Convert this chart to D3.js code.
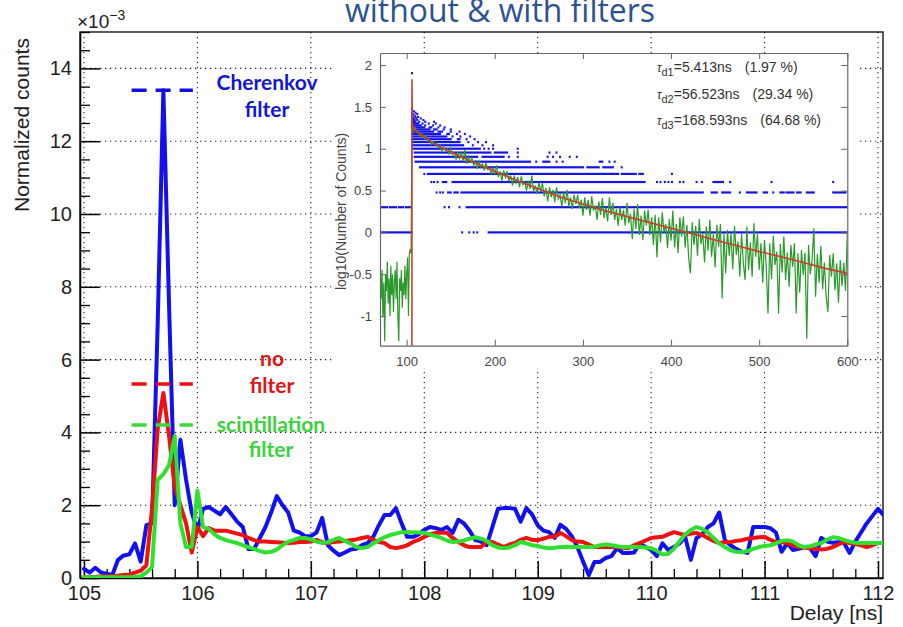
<!DOCTYPE html>
<html><head><meta charset="utf-8">
<script src="https://cdn.jsdelivr.net/npm/d3@7"></script>
<style>body{margin:0;background:#fff} svg{display:block}</style>
</head><body>
<svg id="c" width="903" height="627"></svg>
<script>
// ---------- main chart data (bins of 0.05 ns starting at 105.00 ns) ----------
const binStart = 105.0, binWidth = 0.05;
const cherenkovFilter = [
0.25,0.15,0.28,0.15,0.12,0.08,0.5,0.62,0.65,0.95,
0.45,1.45,1.5,7.0,13.4,7.5,2.0,3.8,2.7,1.8,
1.3,1.9,1.95,1.85,1.75,1.95,1.75,1.55,1.4,0.8,
0.8,1.1,1.4,1.8,2.25,2.0,1.8,1.3,1.25,1.15,
1.15,1.25,1.65,0.9,0.75,0.63,0.7,0.78,0.8,0.9,
0.96,1.13,1.45,1.73,1.73,1.92,1.5,1.13,1.13,1.2,
1.32,1.4,1.37,1.32,1.4,1.24,1.6,1.5,1.3,1.04,
1.0,0.9,1.4,1.9,1.92,1.92,1.9,1.55,1.92,1.75,
1.45,1.3,1.26,1.1,1.46,1.35,1.15,0.85,0.45,0.08,
0.44,0.44,0.55,0.6,0.82,0.69,0.69,0.7,0.96,0.85,
0.77,0.6,0.95,0.77,0.85,0.95,1.13,0.5,1.1,1.2,
1.4,1.5,1.8,1.04,0.9,0.8,0.72,0.69,1.4,1.4,
1.4,1.37,1.25,0.72,0.96,0.77,0.8,0.85,0.82,0.6,
1.1,1.0,0.97,0.98,0.96,0.69,1.0,1.25,1.5,1.7,
1.9,1.73];
const noFilter = [
0.03,0.03,0.03,0.04,0.05,0.05,0.06,0.08,0.1,0.15,
0.2,0.35,1.9,4.1,5.08,3.9,2.5,2.0,1.5,0.7,
1.4,1.15,1.37,1.3,1.3,1.3,1.26,1.22,1.18,1.1,
1.04,1.0,1.0,0.99,0.98,0.97,0.96,0.97,0.99,0.99,
1.0,1.05,0.98,0.96,0.99,1.0,1.02,1.04,1.06,1.1,
1.13,1.05,0.99,0.96,0.85,0.82,0.85,0.9,0.99,1.05,
1.13,1.2,1.24,1.24,1.24,1.1,0.99,0.9,0.85,0.85,
0.85,0.99,0.99,0.92,0.85,0.92,0.96,1.05,1.1,1.05,
1.04,1.08,1.13,1.13,1.24,1.15,1.04,1.0,0.99,0.92,
0.85,0.85,0.85,0.85,0.85,0.83,0.82,0.9,0.96,1.03,
1.1,1.12,1.13,1.2,1.26,1.22,1.18,1.22,1.24,1.18,
1.1,1.02,0.96,0.98,0.99,1.02,1.04,1.08,1.1,1.12,
1.13,1.05,0.99,0.98,0.96,0.9,0.85,0.84,0.82,0.8,
0.78,0.8,0.85,0.92,0.99,0.96,0.93,0.9,0.85,0.9,
0.96,0.96];
const scintillationFilter = [
0.02,0.02,0.02,0.02,0.02,0.02,0.02,0.02,0.02,0.03,
0.05,0.15,0.3,2.7,2.85,3.1,3.9,1.5,0.85,0.85,
2.4,1.4,1.35,1.2,1.1,1.04,1.0,0.96,0.9,0.85,
0.8,0.74,0.7,0.72,0.78,0.9,1.0,1.05,1.1,1.1,
1.06,1.0,0.96,0.98,1.05,1.1,1.02,0.95,0.85,0.82,
0.85,0.95,1.04,1.12,1.18,1.22,1.26,1.26,1.26,1.25,
1.24,1.2,1.15,1.1,1.03,0.99,1.0,1.03,1.08,1.12,
1.08,1.02,0.9,0.84,0.82,0.84,0.9,0.99,0.95,0.9,
0.88,0.84,0.82,0.83,0.85,0.86,0.85,0.85,0.85,0.85,
0.86,0.9,0.92,0.9,0.87,0.85,0.85,0.85,0.85,0.84,
0.82,0.75,0.65,0.66,0.8,1.0,1.2,1.32,1.4,1.35,
1.25,1.1,0.95,0.85,0.76,0.72,0.71,0.74,0.8,0.85,
0.88,0.9,0.95,1.02,1.04,1.0,0.9,0.85,0.87,0.92,
0.96,1.05,1.12,1.1,1.05,1.0,0.97,0.96,0.96,0.96,
0.96,0.96];
const xTickLabels = [105,106,107,108,109,110,111,112];
const yTickLabels = [0,2,4,6,8,10,12,14];
const markerLevels = [13.4, 5.33, 4.2];   // dashed markers: Cherenkov, no filter, scintillation

// ---------- inset data ----------
const insetXTicks = [100,200,300,400,500,600];
const insetYTicks = [-1,-0.5,0,0.5,1,1.5,2];
// blue points: runs of 1-ns bins sharing the same integer count
const dotCounts = [1,2,3,4,5,6,7,8,9,10,11,12,13,14,15,16,17,18,19,20,21,22,23,24,25,26,27,28,30,80];
const dotRuns = [
 [[70,106],[163,163],[171,171],[176,176],[180,180],[193,600]],
 [[71,78],[81,88],[91,96],[99,104],[143,143],[148,148],[160,160],[168,600]],
 [[134,134],[138,138],[141,141],[147,150],[154,158],[162,436],[446,452],[458,467],[478,478],[486,497],[505,509],[516,516],[524,528],[531,539],[543,547],[554,562],[584,598]],
 [[128,128],[131,131],[135,135],[141,145],[152,370],[384,384],[388,388],[393,393],[397,397],[401,401],[410,410],[414,414],[429,429],[435,435],[448,459],[467,467],[514,514],[584,584]],
 [[120,120],[124,340],[344,360],[364,368],[401,401]],
 [[115,300],[305,318],[323,334],[344,344]],
 [[110,240],[247,247],[255,262],[270,270],[277,277],[319,322],[330,330],[336,336]],
 [[109,180],[186,210],[216,216],[226,226],[260,260],[266,266],[274,274],[285,285],[293,293]],
 [[109,195],[200,214],[226,226],[262,262],[270,270]],
 [[108,183],[188,188],[193,193],[198,198],[226,226]],
 [[107,164],[175,175],[186,186],[198,198]],
 [[107,160],[170,170],[181,181],[190,190]],
 [[106,150],[158,160],[168,168],[177,177]],
 [[106,145],[152,152],[161,161],[172,172]],
 [[106,138],[146,148],[157,157],[166,166]],
 [[106,130],[136,140],[150,150],[160,160]],
 [[106,126],[131,134],[142,142],[150,150]],
 [[106,120],[126,128],[136,136],[143,143]],
 [[106,116],[121,121],[130,130],[138,138]],
 [[106,113],[118,118],[125,125],[133,133]],
 [[106,110],[114,114],[121,121],[131,131]],
 [[106,109],[112,112],[119,119]],
 [[106,108],[111,111],[116,116]],
 [[106,107],[110,110],[113,113]],
 [[106,106],[109,109]],
 [[107,107],[112,112]],
 [[106,106],[110,110]],
 [[108,108]],
 [[106,106]],
 [[106,106]]
];
// green measured curve: 1-ns steps from 70 to 105, then 2-ns steps from 106 to 600
const greenPreStart = 70;
const greenPre = [-0.55,-0.8,-0.45,-1.0,-0.6,-1.3,-0.5,-0.7,-0.35,-0.85,-0.55,-1.0,-0.4,-0.75,-0.5,-0.95,-0.6,-0.45,-0.8,-0.35,-1.0,-1.3,-0.55,-0.7,-0.45,-0.9,-0.6,-0.75,-0.4,-0.8,-0.5,-0.3,-1.0,-0.25,-0.2,-0.25];
const greenPostStart = 106, greenPostStep = 2;
const greenPost = [
1.30,1.21,1.25,1.19,1.20,1.14,1.18,1.12,1.16,1.09,
1.11,1.05,1.09,1.05,1.07,1.01,1.04,0.97,1.02,0.98,
1.00,0.94,1.01,0.93,0.95,0.87,0.96,0.88,0.96,0.85,
0.99,0.82,0.91,0.84,0.89,0.80,0.85,0.76,0.85,0.78,
0.82,0.74,0.83,0.75,0.77,0.69,0.78,0.69,0.80,0.66,
0.73,0.62,0.74,0.66,0.73,0.61,0.68,0.56,0.68,0.59,
0.66,0.54,0.67,0.57,0.60,0.50,0.62,0.52,0.68,0.49,
0.56,0.46,0.60,0.49,0.59,0.43,0.53,0.37,0.54,0.42,
0.51,0.36,0.54,0.40,0.45,0.31,0.48,0.35,0.51,0.31,
0.42,0.28,0.45,0.34,0.45,0.29,0.39,0.20,0.42,0.27,
0.39,0.20,0.43,0.26,0.32,0.15,0.37,0.21,0.41,0.17,
0.30,0.13,0.42,0.21,0.35,0.15,0.28,0.08,0.30,0.15,
0.27,0.08,0.35,0.11,0.22,-0.08,0.28,0.04,0.34,-0.03,
0.20,-0.09,0.26,0.08,0.27,-0.03,0.18,-0.15,0.21,-0.30,
0.18,-0.12,0.24,0.00,0.10,-0.19,0.16,-0.10,0.26,-0.18,
0.10,-0.25,0.18,-0.05,0.19,-0.18,0.09,-0.31,-0.49,0.12,
-0.15,0.08,-0.28,0.16,-0.14,-0.01,-0.36,0.07,-0.22,0.15,
-0.29,-0.02,-0.42,0.09,-0.17,0.10,-0.79,-0.01,-0.49,0.03,
-0.28,-0.01,-0.44,0.08,-0.27,-0.11,-0.53,-0.02,-0.36,-0.57,
0.07,-0.45,-0.12,-0.53,0.11,-0.29,-0.02,-0.45,-0.13,-0.60,
-0.09,-0.40,-0.97,-0.13,-0.56,-0.04,-0.39,-0.23,-0.97,-0.14,
-0.48,-0.05,-0.57,-0.24,-0.65,-0.15,-0.41,-0.13,-0.97,-0.25,
-0.72,-0.21,-0.51,-0.24,-1.27,-0.15,-0.50,-0.34,0.05,-0.77,
-0.26,-0.60,-0.16,-0.68,-0.36,-0.77,-0.95,-0.27,-0.53,-0.25,
-0.69,-0.37,-0.84,-0.33,-0.64,-0.36,-0.70,-0.01];
// fit curve (red)
const fitX = [105.9,106.0,106.4,108,110,120,130,140,150,160,175,200,225,250,275,300,325,350,375,400,425,450,475,500,525,550,575,600];
const fitY = [-1.6,1.83,1.30,1.25,1.22,1.14,1.07,1.01,0.96,0.91,0.84,0.73,0.62,0.52,0.42,0.34,0.26,0.19,0.12,0.05,-0.02,-0.09,-0.16,-0.23,-0.29,-0.36,-0.43,-0.49];
const tauNames = ["d1","d2","d3"];
const tauValues = ["5.413","56.523","168.593"];
const tauFractions = ["1.97","29.34","64.68"];

// ---------- drawing ----------
const svg = d3.select('#c');
const FONT = '"Liberation Sans", Arial, Helvetica, sans-serif';
const F = {l:80, r:883, t:32, b:578};
const x = d3.scaleLinear().domain([104.965,112.044]).range([F.l,F.r]);
const y = d3.scaleLinear().domain([0,15]).range([F.b,F.t]);

svg.append('rect').attr('width',903).attr('height',627).attr('fill','#fff');

// title
const title = svg.append('text').attr('x',500).attr('y',22).attr('text-anchor','middle')
  .style('font-family','"Open Sans", Lato, sans-serif').style('font-size','28px')
  .attr('fill','#2c5291').text('without & with filters');
const tw = title.node().getComputedTextLength();
title.style('font-size', (28*310/tw).toFixed(2)+'px');

// grid
const grid = svg.append('g').attr('stroke','#222').attr('stroke-width',1.1).attr('stroke-dasharray','1.3,3.7');
grid.selectAll('.gx').data(xTickLabels).join('line')
  .attr('x1',d=>x(d)).attr('x2',d=>x(d)).attr('y1',F.t).attr('y2',F.b);
grid.selectAll('.gy').data(yTickLabels.filter(v=>v>0)).join('line')
  .attr('x1',F.l).attr('x2',F.r).attr('y1',d=>y(d)).attr('y2',d=>y(d));

// minor axes
const xMinor = d3.range(105,112.001,0.2).filter(v=>Math.abs(v-Math.round(v))>1e-6);
const yMinor = d3.range(0.5,15.01,0.5).filter(v=>v%2!==0);
const gxm = svg.append('g').attr('transform',`translate(0,${F.b})`)
  .call(d3.axisBottom(x).tickValues(xMinor).tickSize(-9).tickFormat(''));
const gym = svg.append('g').attr('transform',`translate(${F.l},0)`)
  .call(d3.axisLeft(y).tickValues(yMinor).tickSize(-10).tickFormat(''));
[gxm,gym].forEach(g=>{g.select('.domain').remove(); g.selectAll('line').attr('stroke','#000').attr('stroke-width',1.3);});

// major axes
const gx = svg.append('g').attr('transform',`translate(0,${F.b})`)
  .call(d3.axisBottom(x).tickValues(xTickLabels).tickSize(-17).tickPadding(8).tickSizeOuter(0).tickFormat(d3.format('d')));
const gy = svg.append('g').attr('transform',`translate(${F.l},0)`)
  .call(d3.axisLeft(y).tickValues(yTickLabels).tickSize(-20).tickPadding(8).tickSizeOuter(0).tickFormat(d3.format('d')));
[gx,gy].forEach(g=>{
  g.select('.domain').attr('stroke','#000').attr('stroke-width',1.5);
  g.selectAll('line').attr('stroke','#000').attr('stroke-width',1.5);
  g.selectAll('text').style('font-family',FONT).style('font-size','20px').attr('fill','#222');
});

// frame
svg.append('rect').attr('x',F.l).attr('y',F.t).attr('width',F.r-F.l).attr('height',F.b-F.t)
  .attr('fill','none').attr('stroke','#000').attr('stroke-width',1.3);

// x10^-3
const mult = svg.append('text').attr('x',77).attr('y',28).style('font-family',FONT).style('font-size','19px').attr('fill','#222');
mult.append('tspan').text('×10');
mult.append('tspan').attr('dy',-8).style('font-size','14px').text('−3');

// axis titles
svg.append('text').attr('transform','translate(29,212) rotate(-90)').attr('text-anchor','start')
  .style('font-family',FONT).style('font-size','21px').attr('fill','#222').text('Normalized counts');
svg.append('text').attr('x',883).attr('y',620).attr('text-anchor','end')
  .style('font-family',FONT).style('font-size','21px').attr('fill','#222').text('Delay [ns]');

// series
svg.append('clipPath').attr('id','mainclip').append('rect')
  .attr('x',F.l).attr('y',F.t).attr('width',F.r-F.l).attr('height',F.b-F.t);
const line = d3.line().x((d,i)=>x(binStart+i*binWidth)).y(d=>y(d));
const series = [
  {vals:cherenkovFilter, color:'#1010f0'},
  {vals:noFilter, color:'#f01010'},
  {vals:scintillationFilter, color:'#2fe02f'}
];
const gs = svg.append('g').attr('clip-path','url(#mainclip)');
series.forEach(s=>{
  gs.append('path').attr('d',line(s.vals)).attr('fill','none').attr('stroke',s.color)
    .attr('stroke-width',4).attr('stroke-linejoin','round').attr('stroke-linecap','round');
});

// dashed markers
const markerColors = ['#1010e0','#e81010','#3ada3a'];
markerLevels.forEach((v,i)=>{
  svg.append('line').attr('x1',x(105.42)).attr('x2',x(105.96)).attr('y1',y(v)).attr('y2',y(v))
    .attr('stroke',markerColors[i]).attr('stroke-width',3.5).attr('stroke-dasharray','15,9');
});
// annotations
const ann = [
  {lines:['Cherenkov','filter'], color:'#1515d5', x:267, y:[90,117]},
  {lines:['no','filter'], color:'#e01515', x:272, y:[366,393]},
  {lines:['scintillation','filter'], color:'#3ad23a', x:271, y:[432,457]}
];
ann.forEach(a=>a.lines.forEach((t,j)=>{
  svg.append('text').attr('x',a.x).attr('y',a.y[j]).attr('text-anchor','middle')
    .style('font-family','Lato, "Open Sans", sans-serif').style('font-weight','bold').style('font-size','21px')
    .attr('fill',a.color).text(t);
}));

// ---------- inset ----------
const I = {l:380, r:847.3, t:53, b:345.7};
svg.append('rect').attr('x',332).attr('y',I.t).attr('width',858-332).attr('height',368-I.t).attr('fill','#fff');
const xi = d3.scaleLinear().domain([69.7,600]).range([I.l,I.r]);
const yi = d3.scaleLinear().domain([-1.354,2.144]).range([I.b,I.t]);
svg.append('clipPath').attr('id','insetclip').append('rect')
  .attr('x',I.l).attr('y',I.t).attr('width',I.r-I.l).attr('height',I.b-I.t);
const gi = svg.append('g').attr('clip-path','url(#insetclip)');

// blue points
dotCounts.forEach((n,k)=>{
  const ly = yi(Math.log10(n));
  dotRuns[k].forEach(r=>{
    gi.append('rect').attr('x',xi(r[0])-1).attr('y',ly-1.1)
      .attr('width',Math.max(2,xi(r[1])-xi(r[0])+2)).attr('height',2.2).attr('fill','#1414e6');
  });
});
// green curve
const greenPts = greenPre.map((v,i)=>[greenPreStart+i, v])
  .concat(greenPost.map((v,i)=>[greenPostStart+i*greenPostStep, v]));
gi.append('path').attr('d',d3.line().x(d=>xi(d[0])).y(d=>yi(d[1]))(greenPts))
  .attr('fill','none').attr('stroke','#2a9a2a').attr('stroke-width',1.2);
// fit
gi.append('path').attr('d',d3.line().x((d,i)=>xi(fitX[i])).y(d=>yi(d))(fitY))
  .attr('fill','none').attr('stroke','#c8402c').attr('stroke-width',1.6);

// inset axes
const ia = [
  svg.append('g').attr('transform',`translate(0,${I.b})`).call(d3.axisBottom(xi).tickValues(insetXTicks).tickSize(-6).tickPadding(11).tickSizeOuter(0)),
  svg.append('g').attr('transform',`translate(0,${I.t})`).call(d3.axisTop(xi).tickValues(insetXTicks).tickSize(-6).tickFormat('').tickSizeOuter(0)),
  svg.append('g').attr('transform',`translate(${I.l},0)`).call(d3.axisLeft(yi).tickValues(insetYTicks).tickSize(-6).tickPadding(8).tickSizeOuter(0).tickFormat(d=>String(d))),
  svg.append('g').attr('transform',`translate(${I.r},0)`).call(d3.axisRight(yi).tickValues(insetYTicks).tickSize(-6).tickFormat('').tickSizeOuter(0))
];
ia.forEach(g=>{
  g.select('.domain').attr('stroke','#666').attr('stroke-width',1.2);
  g.selectAll('line').attr('stroke','#666');
  g.selectAll('text').style('font-family',FONT).style('font-size','13px').attr('fill','#444');
});
svg.append('text').attr('transform','translate(346,290) rotate(-90)').attr('text-anchor','start')
  .style('font-family',FONT).style('font-size','14px').attr('fill','#444').text('log10(Number of Counts)');

// tau labels
tauNames.forEach((nm,i)=>{
  const by = 72 + i*26.5;
  const t = svg.append('text').attr('x',657).attr('y',by).style('font-family',FONT).attr('fill','#333');
  t.append('tspan').style('font-size','12px').style('font-style','italic').text('τ');
  t.append('tspan').attr('dy',4).style('font-size','11px').text(nm);
  t.append('tspan').attr('dy',-4).style('font-size','14px').text('=' + tauValues[i] + 'ns');
  const w = t.node().getComputedTextLength();
  svg.append('text').attr('x',657 + w + 13).attr('y',by).style('font-family',FONT).style('font-size','14px')
    .attr('fill','#333').text('(' + tauFractions[i] + ' %)');
});
</script>
</body></html>
